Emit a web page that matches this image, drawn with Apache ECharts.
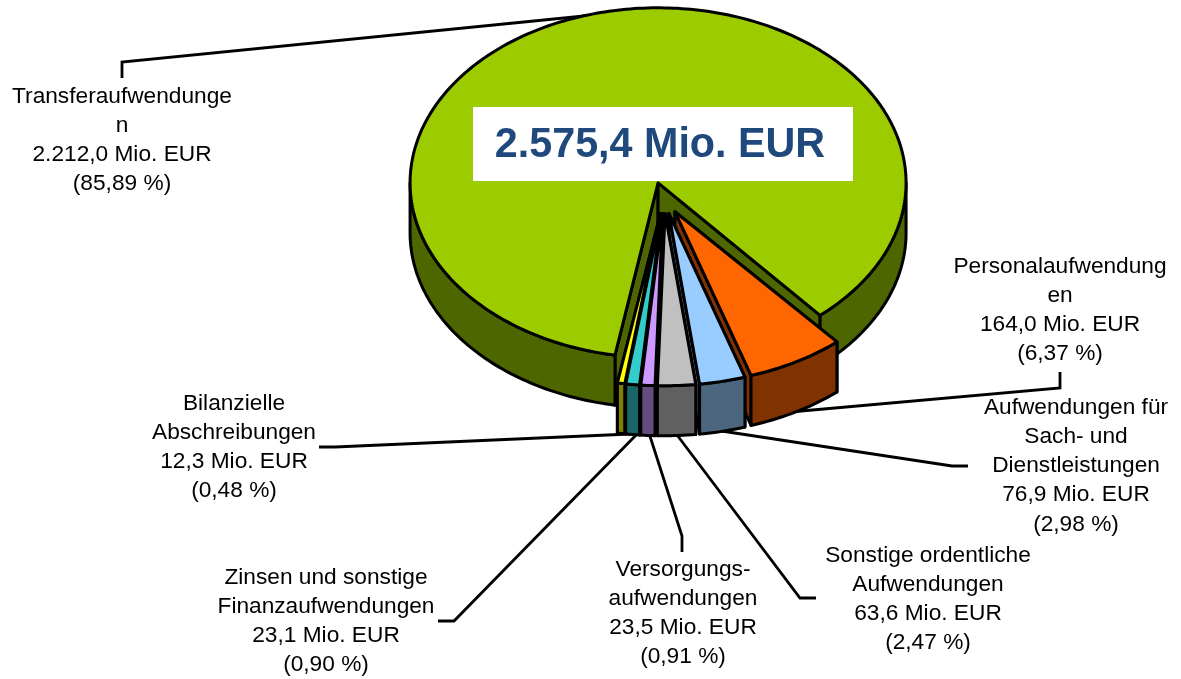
<!DOCTYPE html>
<html><head><meta charset="utf-8">
<style>html,body{margin:0;padding:0;background:#fff}#c{width:1181px;height:679px}</style>
<script src="https://cdn.jsdelivr.net/npm/echarts@6/dist/echarts.min.js"></script>
</head><body><div id="c"></div>
<script>
// ---- data ----
const categories = ['Transferaufwendunge\nn','Personalaufwendung\nen','Aufwendungen für\nSach- und\nDienstleistungen','Sonstige ordentliche\nAufwendungen','Versorgungs-\naufwendungen','Zinsen und sonstige\nFinanzaufwendungen','Bilanzielle\nAbschreibungen'];
const values = [2212.0,164.0,76.9,63.6,23.5,23.1,12.3];
const percents = ['85,89','6,37','2,98','2,47','0,91','0,90','0,48'];
const totalLabel = '2.575,4 Mio. EUR';
// ---- style / layout ----
const topColors = ['#9CCC00','#FF6600','#99CCFF','#C0C0C0','#CC99FF','#33CCCC','#FFFF00'];
const wallColors = ['#4D6600','#803300','#4D6680','#606060','#664D80','#1A6666','#808000'];
const drawOrder = [0,1,2,6,5,4,3];
const labelCenters = [[122,82],[1060,252],[1076,393],[928,541],[683,555],[326,563],[234,389]];
const leaders = [
 [[122,78],[122,62],[604,14]],
 [[1060,372],[1060,388],[790,412]],
 [[968,466],[952,466],[715,430]],
 [[816,598],[800,598],[674,431]],
 [[682,552],[682,536],[648,430]],
 [[438,621],[454,621],[640,431]],
 [[319,447],[335,447],[630,434]]
];
const pie = {cx:664,cy:198,rx:248,ry:175,ryFront:172,depth:50,explode:0.09,startDeg:100};
const total = values.reduce((a,b)=>a+b,0);
const rad = d=>d*Math.PI/180;
const ranges=[]; let acc=pie.startDeg;
values.forEach(v=>{const s=v/total*360;ranges.push([acc,acc+s]);acc+=s;});

function arc(c,ry,a,b,dy){const pts=[];const n=Math.max(2,Math.ceil((b-a)));
  for(let i=0;i<=n;i++){const t=rad(a+(b-a)*i/n);pts.push([c[0]+pie.rx*Math.cos(t),c[1]+dy+ry*Math.sin(t)]);}
  return pts;}
function renderSlice(params,api){
  const idx=params.dataIndex;
  api.value(0);
  const [a,b]=ranges[idx];
  const m=rad((a+b)/2);
  const c=[pie.cx+pie.explode*pie.rx*Math.cos(m),pie.cy+pie.explode*pie.ry*Math.sin(m)];
  const ry=idx===0?pie.ry:pie.ryFront;
  const z=drawOrder.indexOf(idx)*10;
  const base={stroke:'#000',lineWidth:3,lineJoin:'round'};
  const children=[];
  const add=(pts,fill,k)=>children.push({type:'polygon',z2:z+k,shape:{points:pts},style:Object.assign({fill},base)});
  // cut faces
  [a,b].forEach((d,i)=>{const t=rad(d);const e=[c[0]+pie.rx*Math.cos(t),c[1]+ry*Math.sin(t)];
    add([c,e,[e[0],e[1]+pie.depth],[c[0],c[1]+pie.depth]],wallColors[idx],i);});
  // outer wall, front half of the ellipse only
  [[0,180],[360,540]].forEach(w=>{const s=Math.max(a,w[0]),f=Math.min(b,w[1]);
    if(f>s){add(arc(c,ry,s,f,0).concat(arc(c,ry,s,f,pie.depth).reverse()),wallColors[idx],2);}});
  // top face
  add([c].concat(arc(c,ry,a,b,0)),topColors[idx],3);
  return {type:'group',children};
}
const graphic=[];
leaders.forEach(l=>graphic.push({type:'polyline',z:1,shape:{points:l},style:{stroke:'#000',lineWidth:2.8,fill:null}}));
categories.forEach((name,i)=>{
  const txt=name+'\n'+values[i].toLocaleString('de-DE',{minimumFractionDigits:1,maximumFractionDigits:1})+' Mio. EUR\n('+percents[i]+' %)';
  graphic.push({type:'text',z:20,x:labelCenters[i][0],y:labelCenters[i][1],style:{text:txt,fill:'#000',font:'22.7px "Liberation Sans"',lineHeight:29.2,align:'center',verticalAlign:'top'}});
});
graphic.push({type:'rect',z:10,shape:{x:473,y:107,width:380,height:74},style:{fill:'#fff'}});
graphic.push({type:'text',z:11,x:660,y:145,scaleX:0.96,style:{text:totalLabel,fill:'#1F497D',font:'bold 43px "Liberation Sans"',align:'center',verticalAlign:'middle'}});

const chart=echarts.init(document.getElementById('c'),null,{renderer:'canvas'});
chart.setOption({
  animation:false,
  backgroundColor:'#fff',
  graphic:{elements:graphic},
  series:[{type:'custom',coordinateSystem:'none',z:5,clip:false,silent:true,renderItem:renderSlice,
    data:values.map((v,i)=>({name:categories[i],value:[v]}))}]
});
</script></body></html>
